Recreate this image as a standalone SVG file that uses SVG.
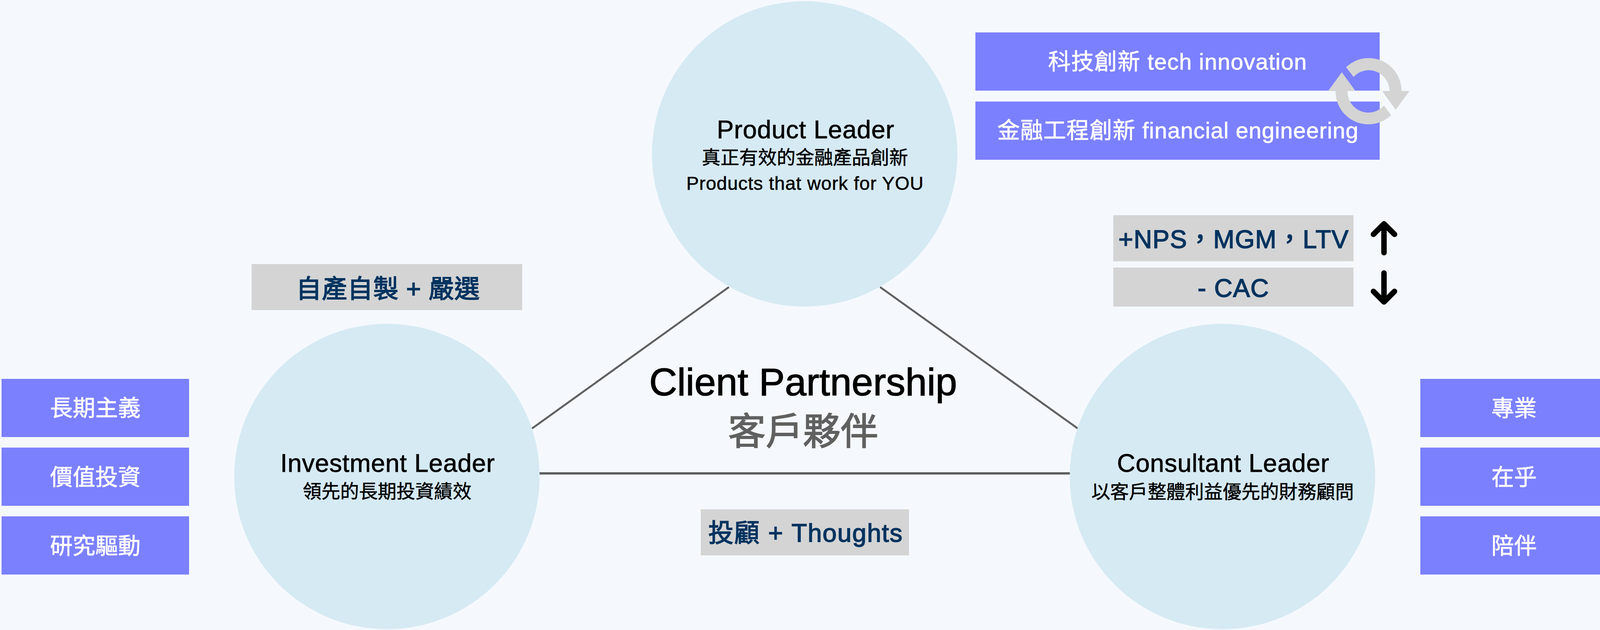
<svg xmlns="http://www.w3.org/2000/svg" width="4113" height="1613" viewBox="0 0 4113 1613">
<defs>
<style>
text{font-family:"Liberation Sans","Noto Sans CJK TC",sans-serif;text-anchor:middle}
.circle{fill:#D6EAF3}
.blue{fill:#7B80FF}
.grey{fill:#D4D4D4}
.conn{stroke:#5F6163;fill:none}
.wt{fill:#fff;font-size:58px;stroke:#fff;stroke-width:.9px}
.nv{fill:#00335F;font-size:65px;stroke:#00335F;stroke-width:1.8px}
.tt{fill:#000;font-size:65px;stroke:#000;stroke-width:.9px}
.st{fill:#000;font-size:48px;stroke:#000;stroke-width:.7px}
.arr{stroke:#000;stroke-width:14px;fill:none;stroke-linecap:round;stroke-linejoin:round}
.cyc{fill:#D4D4D4}
</style>
</defs>
<rect width="4113" height="1613" fill="#F5F9FE"/>
<g id="connectors">
<line class="conn" stroke-width="5" x1="1362" y1="1097" x2="1866" y2="735"/>
<line class="conn" stroke-width="5" x1="2253" y1="735" x2="2759" y2="1097"/>
<line class="conn" stroke-width="6" x1="1381" y1="1212" x2="2739" y2="1212"/>
</g>
<g id="node-product">
<circle class="circle" cx="2060" cy="394" r="391"/>
<text class="tt" x="2062" y="354" textLength="454">Product Leader</text>
<text class="st" x="2060.5" y="420">真正有效的金融產品創新</text>
<text class="st" x="2060.5" y="486" textLength="607">Products that work for YOU</text>
</g>
<g id="node-investment">
<circle class="circle" cx="990.5" cy="1220" r="391"/>
<text class="tt" x="992" y="1208" textLength="549">Investment Leader</text>
<text class="st" x="991" y="1275">領先的長期投資績效</text>
</g>
<g id="node-consultant">
<circle class="circle" cx="3129.5" cy="1220" r="391"/>
<text class="tt" x="3131" y="1208" textLength="543">Consultant Leader</text>
<text class="st" x="3130" y="1276">以客戶整體利益優先的財務顧問</text>
</g>
<g id="center-label">
<text x="2056" y="1012" font-size="99" fill="#000" stroke="#000" stroke-width="1.6" textLength="788">Client Partnership</text>
<text x="2056" y="1138" font-size="96" fill="#606060" stroke="#606060" stroke-width="2">客戶夥伴</text>
</g>
<g id="tag-left-grey">
<rect class="grey" x="644" y="676" width="693" height="118"/>
<text class="nv" x="993" y="762" textLength="470">自產自製 + 嚴選</text>
</g>
<g id="tag-bottom-grey">
<rect class="grey" x="1794" y="1304" width="533" height="118"/>
<text class="nv" x="2061.5" y="1387" textLength="497">投顧 + Thoughts</text>
</g>
<g id="tag-nps">
<rect class="grey" x="2850" y="551" width="615" height="118"/>
<text class="nv" x="3157.5" y="635" textLength="589">+NPS，MGM，LTV</text>
</g>
<g id="tag-cac">
<rect class="grey" x="2850" y="685" width="615" height="100"/>
<text class="nv" x="3157" y="760" textLength="182">- CAC</text>
</g>
<g id="tag-tech">
<rect class="blue" x="2497" y="83" width="1035" height="149"/>
<text class="wt" x="3014" y="178" textLength="662">科技創新 tech innovation</text>
</g>
<g id="tag-fin">
<rect class="blue" x="2497" y="260" width="1035" height="149"/>
<text class="wt" x="3015" y="354" textLength="924">金融工程創新 financial engineering</text>
</g>
<g id="cycle-icon">
<path class="cyc" d="M3446 172A84 84 0 0 1 3588 233L3557 233A53 53 0 0 0 3465 197Z"/>
<polygon class="cyc" points="3538,233 3608,233 3573,281"/>
<path class="cyc" d="M3561 295A84 84 0 0 1 3419 233L3450 233A53 53 0 0 0 3543 270Z"/>
<polygon class="cyc" points="3400,233 3470,233 3435,185"/>
</g>
<g id="arrow-up">
<path class="arr" d="M3543 647V573M3516 600L3543 573L3570 600"/>
</g>
<g id="arrow-down">
<path class="arr" d="M3543 699V773M3516 746L3543 773L3570 746"/>
</g>
<g id="left-blue-1"><rect class="blue" x="4" y="970" width="480" height="149"/><text class="wt" x="244" y="1065">長期主義</text></g>
<g id="left-blue-2"><rect class="blue" x="4" y="1146" width="480" height="149"/><text class="wt" x="244" y="1242">價值投資</text></g>
<g id="left-blue-3"><rect class="blue" x="4" y="1322" width="480" height="149"/><text class="wt" x="244" y="1418">研究驅動</text></g>
<g id="right-blue-1"><rect class="blue" x="3636" y="970" width="477" height="149"/><text class="wt" x="3876" y="1066">專業</text></g>
<g id="right-blue-2"><rect class="blue" x="3636" y="1146" width="477" height="149"/><text class="wt" x="3876" y="1242">在乎</text></g>
<g id="right-blue-3"><rect class="blue" x="3636" y="1322" width="477" height="149"/><text class="wt" x="3876" y="1418">陪伴</text></g>
</svg>
